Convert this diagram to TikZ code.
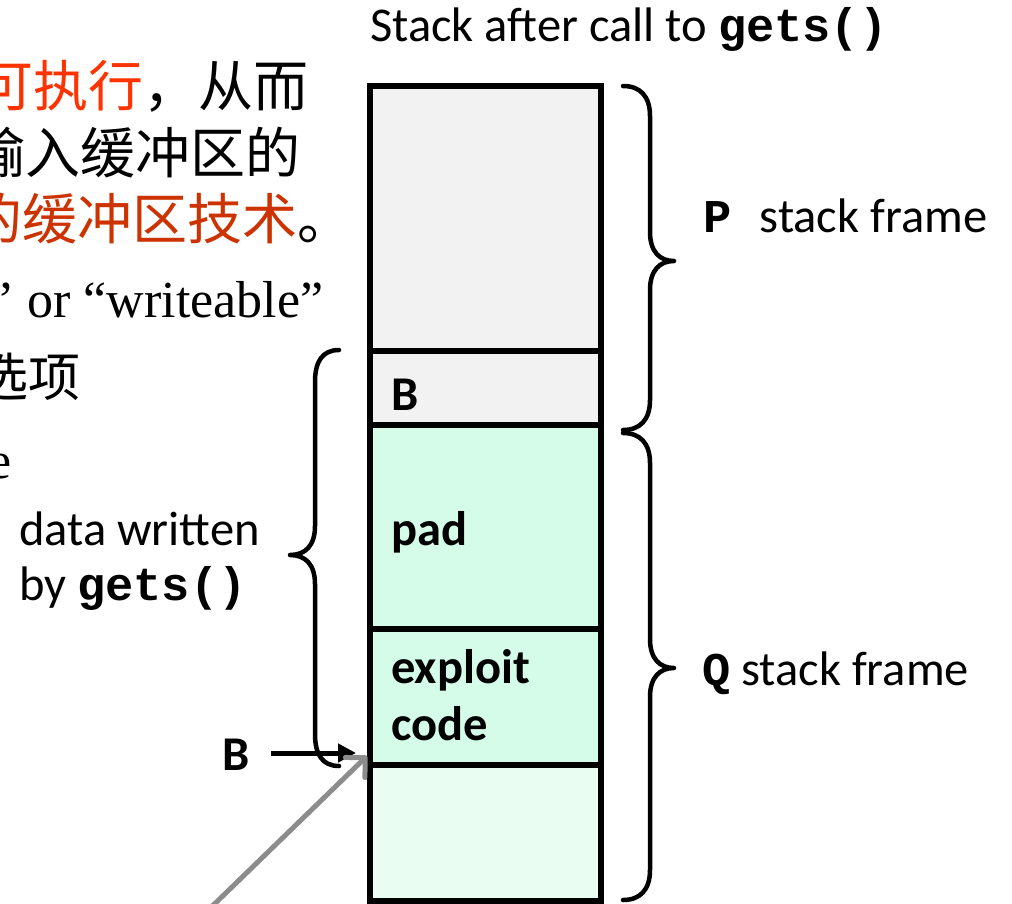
\documentclass[tikz,border=0pt]{standalone}
\usepackage{fontspec}
\setmainfont{Carlito}
\newfontfamily\cjk{Noto Sans CJK SC}
\newfontfamily\mono{Liberation Mono}
\newfontfamily\serif{Liberation Serif}
\usetikzlibrary{arrows.meta}
\definecolor{framegray}{HTML}{F2F2F2}
\definecolor{padgreen}{HTML}{D4FCE8}
\definecolor{lowgreen}{HTML}{EAFDF2}
\definecolor{hotred}{HTML}{FF3300}
\definecolor{deepred}{HTML}{CC3300}
\definecolor{ptrgray}{HTML}{8C8C8C}
% bold typewriter code, kept at the size of the slide's code font
\newcommand{\codefont}[1]{{\fontsize{47}{56}\selectfont\mono\bfseries #1}}
\begin{document}
\begin{tikzpicture}[x=1pt,y=-1pt,
  txt/.style={inner sep=0pt, anchor=base west, font=\fontsize{48.5}{58}\selectfont},
  celltxt/.style={inner sep=0pt, anchor=base west, font=\fontsize{48.5}{58}\selectfont\bfseries},
  cjktxt/.style={inner sep=0pt, anchor=base west, font=\fontsize{55}{66}\selectfont\cjk},
  cjksmall/.style={inner sep=0pt, anchor=base west, font=\fontsize{52}{62}\selectfont\cjk},
  seriftxt/.style={inner sep=0pt, anchor=base west, font=\fontsize{52}{62}\selectfont\serif},
  cell/.style={draw=black, line width=5.5pt, minimum width=231pt, inner sep=0pt, outer sep=0pt},
  brace/.style={line width=4.5pt, line cap=round, line join=round},
  blackarrow/.style={line width=5pt, -{Triangle[length=18pt, width=18pt]}},
  grayarrow/.style={draw=ptrgray, line width=5pt, -{Straight Barb[round, length=14pt, width=28pt]}},
]
\useasboundingbox (0,0) rectangle (1012,903);
\clip (0,0) rectangle (1012,903);

% text at the left edge of the page
\node[cjktxt] (l1) at (-22,106) {\color{hotred}可执行\color{black}，从而};
\node[cjktxt] (l2) at (-30,173) {输入缓冲区的};
\node[cjktxt] (l3) at (-33,239) {\color{deepred}的缓冲区技术\color{black}。};
\node[seriftxt] (l4) at (-3,317) {’ or “writeable”};
\node[cjksmall] (l5) at (-24,396) {选项};
\node[seriftxt] (l6) at (-12,478) {e};

% title
\node[txt] (title) at (370,41) {Stack after call to \codefont{gets()}};

% the stack cells, top to bottom
\node[cell, fill=framegray, minimum height=265pt] (ptop) at (485.5,218.5) {};
\node[cell, fill=framegray, minimum height=74pt] (bcell) at (485.5,388) {};
\node[cell, fill=padgreen, minimum height=204pt] (pad) at (485.5,527) {};
\node[cell, fill=padgreen, minimum height=136pt] (exploit) at (485.5,697) {};
\node[cell, fill=lowgreen, minimum height=136pt] (low) at (485.5,833) {};

\node[celltxt] (blbl) at (391,410) {B};
\node[celltxt] (padlbl) at (391,545) {pad};
\node[celltxt] (exlbl) at (391,683) {exploit};
\node[celltxt] (codelbl) at (391,740) {code};

% frame labels
\node[txt] (plbl) at (703,232) {\codefont{P }stack frame};
\node[txt] (qlbl) at (702,685) {\codefont{Q} stack frame};
\node[txt] (dw1) at (19,545) {data written};
\node[txt] (dw2) at (19,600) {by \codefont{gets()}};

% braces
\draw[brace] (623,86) .. controls (640,86) and (650,96) .. (650,116) -- (650,232)
  .. controls (650,252) and (660,261) .. (674,261)
  .. controls (660,261) and (650,270) .. (650,290) -- (650,400)
  .. controls (650,420) and (640,430) .. (623,430);
\draw[brace] (623,433) .. controls (640,433) and (650,443) .. (650,463) -- (650,639)
  .. controls (650,659) and (660,668) .. (674,668)
  .. controls (660,668) and (650,677) .. (650,697) -- (650,870)
  .. controls (650,890) and (640,900) .. (623,900);
\draw[brace] (339,350) .. controls (322,350) and (315,362) .. (315,382) -- (315,526)
  .. controls (315,546) and (305,555) .. (290,555)
  .. controls (305,555) and (315,564) .. (315,584) -- (315,734)
  .. controls (315,754) and (322,766) .. (339,766);

% pointer B and the return address pointer
\node[celltxt] (bptr) at (222,770) {B};
\coordinate (bhit) at (356,753);
\draw[blackarrow, shorten <=21pt] (bptr.east |- bhit) -- (bhit);
\coordinate (gtail) at (198,920);
\coordinate (ghit) at (367,756);
\draw[grayarrow] (gtail) -- (ghit);
\end{tikzpicture}
\end{document}
